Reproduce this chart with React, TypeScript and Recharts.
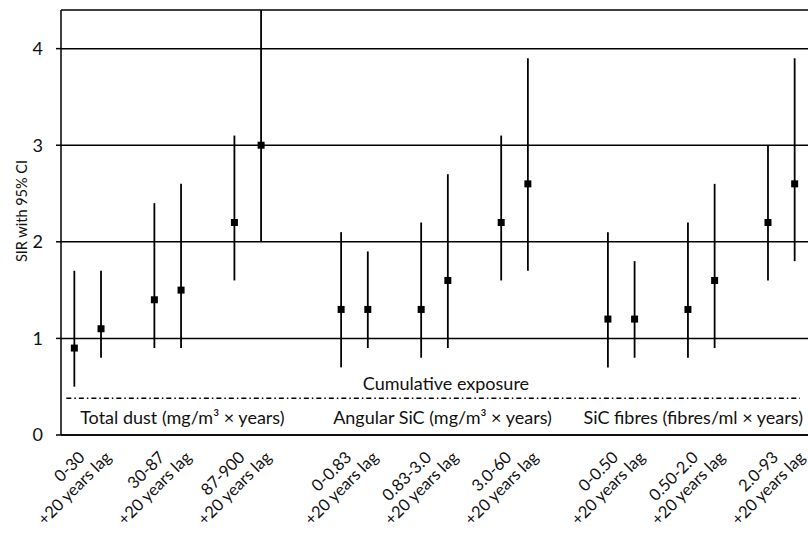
import React from 'react';
import { ComposedChart, Line, ErrorBar, XAxis, YAxis, CartesianGrid, ReferenceLine, ReferenceDot, Label } from 'recharts';

// 28 slots on the x axis, '' = empty gap slot
const categories = [
  '0-30', '+20 years lag', '', '30-87', '+20 years lag', '', '87-900', '+20 years lag', '', '',
  '0-0.83', '+20 years lag', '', '0.83-3.0', '+20 years lag', '', '3.0-60', '+20 years lag', '', '',
  '0-0.50', '+20 years lag', '', '0.50-2.0', '+20 years lag', '', '2.0-93', '+20 years lag',
];
const sir = [0.9, 1.1, null, 1.4, 1.5, null, 2.2, 3.0, null, null, 1.3, 1.3, null, 1.3, 1.6, null, 2.2, 2.6, null, null, 1.2, 1.2, null, 1.3, 1.6, null, 2.2, 2.6];
const lower = [0.5, 0.8, null, 0.9, 0.9, null, 1.6, 2.0, null, null, 0.7, 0.9, null, 0.8, 0.9, null, 1.6, 1.7, null, null, 0.7, 0.8, null, 0.8, 0.9, null, 1.6, 1.8];
const upper = [1.7, 1.7, null, 2.4, 2.6, null, 3.1, 4.4, null, null, 2.1, 1.9, null, 2.2, 2.7, null, 3.1, 3.9, null, null, 2.1, 1.8, null, 2.2, 2.6, null, 3.0, 3.9];
const yTicks = [0, 1, 2, 3, 4];

const FONT = 'Lato, "Noto Sans", sans-serif';

const data = categories
  .map((name, i) => ({
    x: i + 0.5,
    name,
    sir: sir[i],
    err: sir[i] == null ? null : [sir[i]! - lower[i]!, upper[i]! - sir[i]!],
  }))
  .filter((d) => d.sir != null);

const xTicks = data.map((d) => d.x);

const Square = (props: any) => {
  const { cx, cy } = props;
  if (cx == null || cy == null) return null;
  return <rect x={cx - 3.5} y={cy - 3.5} width={7} height={7} fill="#000" />;
};

// rotated category label, top-right corner near the tick
const XTick = (props: any) => {
  const { x, y, payload } = props;
  const label = categories[Math.floor(payload.value)];
  return (
    <g transform={`translate(${x + 3},${y + 7})`}>
      <text transform="rotate(-45)" textAnchor="end" dy="0.72em" fontFamily={FONT} fontSize={16.5} fill="#111">
        {label}
      </text>
    </g>
  );
};

const YLabel = () => (
  <text x={21} y={211} transform="rotate(-90 21 211)" textAnchor="middle" dominantBaseline="central"
    fontFamily={FONT} fontSize={14.5} fill="#111">
    SIR with 95% CI
  </text>
);

const textLabel = (value: string) => ({ value, position: 'center' as const, fill: '#111', fontSize: 18, fontFamily: FONT });

export default function App() {
  return (
    <div style={{ position: 'absolute', left: 0, top: 0, background: '#fff' }}>
      <ComposedChart width={808} height={533} data={data} margin={{ top: 10, right: 0, bottom: 0, left: 0 }}>
        <CartesianGrid vertical={false} stroke="#000" strokeWidth={1.5} />
        <XAxis
          type="number"
          dataKey="x"
          domain={[0, 28]}
          ticks={xTicks}
          interval={0}
          tickLine={false}
          axisLine={{ stroke: '#000', strokeWidth: 1.5 }}
          height={98}
          tick={<XTick />}
        />
        <YAxis
          type="number"
          domain={[0, 4.4]}
          ticks={yTicks}
          allowDataOverflow
          width={61}
          tickSize={5}
          tickMargin={13}
          tickLine={{ stroke: '#000', strokeWidth: 1.5 }}
          axisLine={{ stroke: '#000', strokeWidth: 1.5 }}
          tick={{ fill: '#111', fontSize: 18, fontFamily: FONT }}
        >
          <Label content={YLabel} />
        </YAxis>
        <ReferenceLine
          segment={[{ x: 0.2, y: 0.38 }, { x: 27.7, y: 0.38 }]}
          stroke="#000"
          strokeWidth={1.5}
          strokeDasharray="5 3 1.5 3"
        />
        <ReferenceDot x={14.43} y={0.53} r={0} fill="none" stroke="none" label={textLabel('Cumulative exposure')} />
        <ReferenceDot x={4.55} y={0.18} r={0} fill="none" stroke="none" label={textLabel('Total dust (mg/m³ × years)')} />
        <ReferenceDot x={14.3} y={0.18} r={0} fill="none" stroke="none" label={textLabel('Angular SiC (mg/m³ × years)')} />
        <ReferenceDot x={23.7} y={0.18} r={0} fill="none" stroke="none" label={textLabel('SiC fibres (fibres/ml × years)')} />
        <Line
          dataKey="sir"
          stroke="none"
          dot={<Square />}
          activeDot={false}
          isAnimationActive={false}
        >
          <ErrorBar dataKey="err" direction="y" width={0} stroke="#000" strokeWidth={1.8} isAnimationActive={false} />
        </Line>
      </ComposedChart>
    </div>
  );
}
